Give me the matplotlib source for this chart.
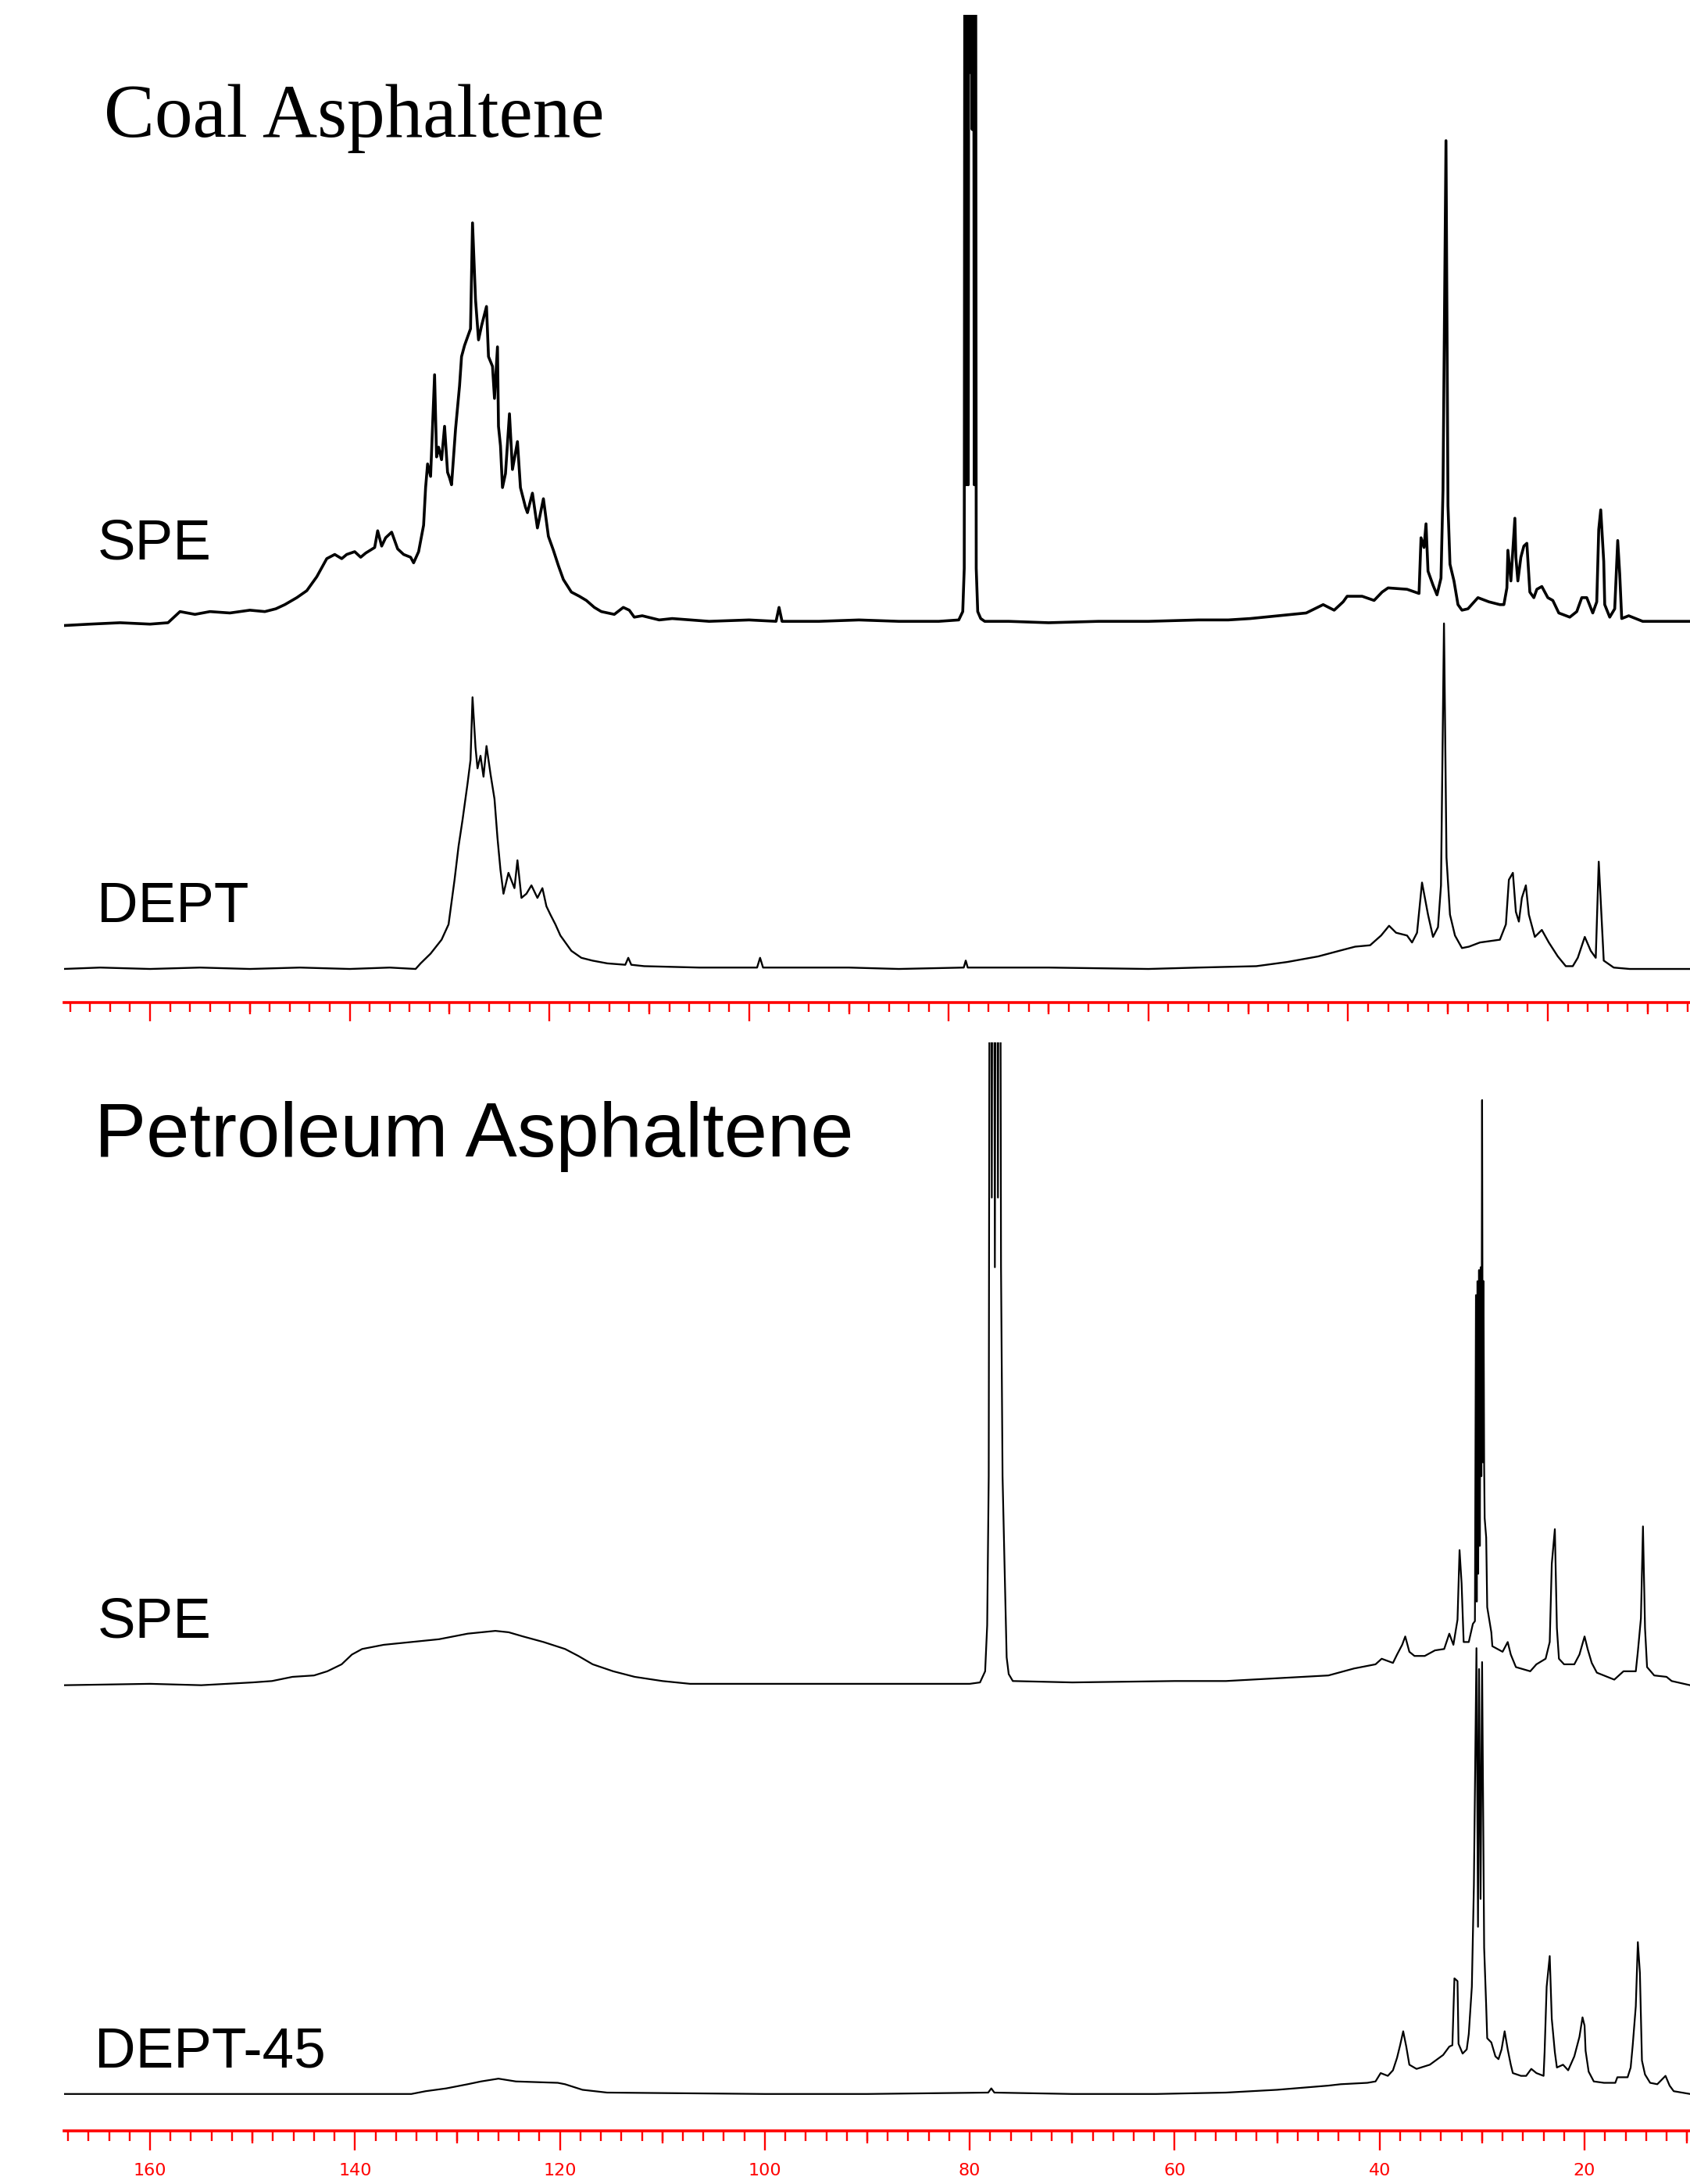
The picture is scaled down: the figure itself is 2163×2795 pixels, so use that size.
import matplotlib.pyplot as plt
from matplotlib.ticker import MultipleLocator

# intensities are in arbitrary units, ppm descending

# Coal asphaltene, SPE
coal_spe_ppm = [168.6, 166, 163, 160, 158.2, 157.6, 157.0, 155.5, 154, 152, 150, 148.5, 147.4,
                146.5, 145.3, 144.3, 143.3, 142.3, 141.5, 140.8, 140.3, 139.5, 138.9, 138.4,
                137.5, 137.2, 136.8, 136.4, 135.8, 135.2, 134.6, 133.9, 133.6, 133.1, 132.6,
                132.4, 132.2, 131.9, 131.5, 131.3, 131.1, 130.8, 130.5, 130.2, 130.0, 129.8,
                129.4, 129.0, 128.8, 128.5, 128.3, 127.9, 127.7, 127.4, 127.1, 126.8, 126.3,
                126.1, 125.7, 125.5, 125.2, 125.1, 124.9, 124.7, 124.4, 124.0, 123.7, 123.2,
                122.9, 122.4, 122.2, 121.7, 121.2, 120.6, 120.1, 119.6, 119.1, 118.6, 117.8,
                117.0, 116.3, 115.5, 114.8, 113.5, 112.6, 112.0, 111.5, 110.7, 109, 107.7,
                104, 100, 97.3, 97.0, 96.7, 93, 89, 85, 81, 79.0, 78.6, 78.45, 78.35, 78.25,
                78.15, 78.05, 77.95, 77.85, 77.75, 77.65, 77.55, 77.45, 77.35, 77.25, 77.1,
                76.8, 76.4, 74, 70, 65, 60, 55, 52, 49.8, 47.0, 44.2,
                42.5, 41.4, 40.5, 40.1, 38.6, 37.4, 36.6, 36.0, 34.1, 32.9, 32.7, 32.4, 32.2,
                32.0, 31.5, 31.1, 30.7, 30.5, 30.2, 30.0, 29.8, 29.4, 29.0, 28.6, 28.0, 27.0,
                25.9, 24.8, 24.4, 24.1, 24.0, 23.7, 23.3, 23.2, 23.0, 22.7, 22.4, 22.1, 21.8,
                21.4, 21.1, 20.6, 20.0, 19.5, 18.9, 17.8, 17.1, 16.6, 16.1, 15.5, 15.1, 14.9,
                14.7, 14.4, 14.3, 13.8, 13.3, 13.0, 12.8, 12.6, 11.9, 10.5, 8.2, 5.7]
coal_spe_int = [-1, 0, 1, 0, 1, 5, 9, 7, 9, 8, 10, 9, 11,
                14, 19, 24, 34, 47, 50, 47, 50, 52, 48, 51,
                55, 67, 56, 62, 66, 54, 50, 48, 44, 52, 71,
                98, 115, 106, 179, 120, 127, 118, 142, 109, 105, 100,
                140, 171, 192, 200, 204, 212, 288, 233, 204, 214, 228,
                192, 185, 162, 199, 142, 128, 98, 108, 151, 111, 131,
                98, 84, 80, 94, 69, 90, 63, 53, 42, 32, 23,
                20, 17, 12, 9, 7, 12, 10, 5, 6, 3, 4,
                2, 3, 2, 12, 2, 2, 3, 2, 2, 3, 9, 40, 900, 100,
                900, 100, 900, 396, 900, 355, 900, 100, 900, 40, 9,
                4, 2, 2, 1, 2, 2, 3, 3, 4, 6, 8,
                14, 10, 16, 20, 20, 17, 23, 26, 25, 22, 62, 55, 72,
                38, 28, 21, 33, 96, 347, 85, 43, 31, 14, 10, 11, 19,
                16, 14, 14, 26, 53, 31, 76, 48, 31, 48, 56, 58, 23,
                19, 25, 27, 19, 17, 8, 5, 9, 19, 19, 8, 16, 68,
                82, 45, 14, 5, 11, 60, 36, 4, 6, 2, 2, 2]

# Coal asphaltene, DEPT
coal_dept_ppm = [168.7, 165, 160, 155, 150, 145, 140, 136, 133.4, 132.9, 131.9, 130.8, 130.1,
                 129.5, 129.1, 128.7, 128.2, 127.9, 127.7, 127.4, 127.2, 126.9, 126.6, 126.3,
                 125.9, 125.5, 125.2, 124.9, 124.6, 124.1, 123.5, 123.2, 122.8, 122.3, 121.8,
                 121.2, 120.7, 120.3, 119.9, 119.4, 118.9, 118.3, 117.8, 116.8, 115.7, 114.2,
                 112.4, 112.1, 111.8, 110.5, 105, 99.2, 98.9, 98.6, 90, 85, 78.5, 78.3, 78.1,
                 70, 60, 55, 49.2, 46.1, 43.0, 40.9, 39.3, 37.8, 36.7, 35.9, 35.2, 34.1, 33.6,
                 33.1, 32.6, 32.0, 31.5, 31.0, 30.7, 30.4, 30.15, 29.8, 29.3, 28.6, 27.9, 26.8,
                 25.8, 24.8, 24.2, 23.9, 23.5, 23.2, 22.9, 22.6, 22.2, 21.9, 21.3, 20.6, 19.9,
                 19.0, 18.2, 17.5, 17.0, 16.3, 15.7, 15.2, 14.9, 14.4, 13.4, 11.8, 5.7]
coal_dept_int = [0, 1, 0, 1, 0, 1, 0, 1, 0, 4, 11, 21, 32,
                 64, 88, 107, 133, 150, 195, 159, 144, 153, 138, 160,
                 140, 122, 94, 71, 54, 69, 58, 78, 51, 54, 60,
                 51, 58, 45, 39, 32, 24, 18, 13, 8, 6, 4,
                 3, 8, 3, 2, 1, 1, 8, 1, 1, 0, 1, 6, 1,
                 1, 0, 1, 2, 5, 9, 13, 16, 17, 24, 31, 26, 24, 19,
                 26, 62, 39, 23, 30, 60, 248, 80, 39, 24, 15, 16, 19,
                 20, 21, 32, 64, 69, 41, 34, 51, 60, 39, 23, 28, 19,
                 9, 2, 2, 8, 23, 13, 8, 77, 6, 1, 0, 0]

# Petroleum asphaltene, SPE
pet_spe_ppm = [168.4, 160, 155, 150, 148.1, 146.1, 144.0, 142.7, 141.3, 140.3, 139.3, 137.2,
               134.5, 131.8, 129.0, 126.3, 125.0, 123.6, 121.6, 119.5, 118.2, 116.8, 114.8,
               112.7, 110.0, 107.3, 100, 90, 80, 79.0, 78.5, 78.3, 78.15, 78.0, 77.85, 77.7,
               77.55, 77.4, 77.25, 77.1, 76.95, 76.8, 76.6, 76.4, 76.2, 75.8, 70, 60, 55, 50,
               45.0, 42.5, 40.4,
               39.8, 38.7, 38.3, 37.8, 37.5, 37.1, 36.6, 35.6, 34.6, 33.7, 33.2, 32.8, 32.4,
               32.2, 32.0, 31.8, 31.3, 30.9, 30.7, 30.6, 30.52, 30.45, 30.38, 30.3, 30.22,
               30.14, 30.07, 30.0, 29.93, 29.86, 29.8, 29.75, 29.6, 29.5, 29.1, 29.0, 28.0,
               27.5, 27.2, 26.7, 25.3, 24.7, 23.8, 23.4,
               23.2, 22.9, 22.7, 22.5, 22.0, 21.0, 20.5, 20.0, 19.7, 19.3, 18.8, 17.1, 16.2,
               15.0, 14.8, 14.5, 14.3, 14.1, 13.9, 13.2, 12.0, 11.5, 9.7]
pet_spe_int = [0, 1, 0, 2, 3, 6, 7, 10, 15, 22, 26, 29,
               31, 33, 37, 39, 38, 35, 31, 26, 21, 15, 10,
               6, 3, 1, 1, 1, 1, 2, 10, 43, 150, 900, 350, 900,
               300, 900, 350, 900, 300, 150, 84, 20, 8, 3, 2, 3, 3, 5,
               7, 12, 15,
               19, 16, 22, 29, 35, 24, 21, 21, 25, 26, 37, 29, 47,
               97, 73, 31, 31, 44, 46, 280, 60, 290, 80, 298, 100,
               300, 150, 420, 160, 290, 157, 120, 106, 56, 38, 28, 24,
               31, 22, 13, 10, 15, 19, 31,
               87, 112, 41, 19, 15, 15, 22, 35, 26, 16, 9, 4, 10,
               10, 24, 48, 114, 41, 13, 7, 6, 3, 0]

# Petroleum asphaltene, DEPT-45
pet_dept_ppm = [168.4, 160, 150, 140, 134.5, 133.1, 131.1, 129.0, 127.7, 126.0, 124.3, 120.2,
                119.5, 117.8, 115.4, 100, 90, 78.2, 77.9, 77.6, 70, 61.8, 55, 50, 45.0, 43.8,
                41.2, 40.4, 39.9, 39.2, 38.7, 38.3, 38.0, 37.7, 37.4, 37.1, 36.4, 35.1, 33.8,
                33.2, 32.9, 32.7, 32.4, 32.3, 31.9, 31.5, 31.3, 31.0, 30.8, 30.55, 30.4, 30.3,
                30.15, 30.0, 29.8, 29.6, 29.5, 29.1, 28.7, 28.4, 28.1, 27.8, 27.5, 27.2, 27.0,
                26.2, 25.7, 25.2, 24.7, 24.0, 23.9, 23.7, 23.4, 23.2, 22.9, 22.7, 22.1, 21.6,
                21.0, 20.5, 20.2, 20.0, 19.9, 19.6, 19.1, 18.1, 17.0, 16.8, 15.8, 15.5, 15.3,
                15.0, 14.8, 14.6, 14.4, 14.1, 13.6, 12.9, 12.1, 11.7, 11.3, 9.7]
pet_dept_int = [0, 0, 0, 0, 0, 2, 4, 7, 9, 11, 9, 8,
                7, 3, 1, 0, 0, 1, 4, 1, 0, 0, 1, 3, 6, 7,
                8, 9, 15, 13, 17, 26, 35, 45, 34, 21, 18, 21, 28,
                34, 35, 83, 81, 36, 29, 32, 43, 77, 150, 320, 120, 305,
                140, 310, 105, 63, 40, 37, 27, 25, 32, 45, 32, 21, 15,
                13, 13, 18, 15, 13, 30, 77, 99, 54, 30, 19, 21, 17,
                27, 41, 55, 49, 31, 16, 9, 8, 8, 12, 12, 19, 35,
                63, 109, 87, 24, 14, 8, 7, 13, 6, 2, 0]

W, H = 2163, 2795

fig = plt.figure(figsize=(W / 100, H / 100), dpi=100)
fig.patch.set_facecolor("white")

ax_top = fig.add_axes([82 / W, 1 - 1283 / H, 1 - 82 / W, (1283 - 19) / H])
ax_bot = fig.add_axes([82 / W, 1 - 2726.5 / H, 1 - 82 / W, (2726.5 - 1334) / H])


def style_axis(ax, xlim, ylim, tick_scale, labels):
    ax.set_xlim(*xlim)
    ax.set_ylim(*ylim)
    for side in ["top", "left", "right"]:
        ax.spines[side].set_visible(False)
    ax.spines["bottom"].set_color("red")
    ax.spines["bottom"].set_linewidth(2.6)
    ax.set_yticks([])
    ax.xaxis.set_major_locator(MultipleLocator(20))
    ax.xaxis.set_minor_locator(MultipleLocator(2))
    ax.tick_params(axis="x", which="major", direction="out", length=17.5 * tick_scale,
                   width=1.7, color="red", labelbottom=labels, labelcolor="red",
                   labelsize=16, pad=12)
    ax.tick_params(axis="x", which="minor", direction="out", length=8.7 * tick_scale,
                   width=1.7, color="red")
    # the 10 ppm ticks are a bit longer than the 2 ppm ones
    mid = ax.secondary_xaxis("bottom")
    mid.set_xticks([150, 130, 110, 90, 70, 50, 30, 10])
    mid.tick_params(axis="x", length=10.8 * tick_scale, width=1.7, color="red",
                    labelbottom=False)
    mid.spines["bottom"].set_visible(False)
    mid.xaxis.set_minor_locator(plt.NullLocator())
    ax.set_facecolor("none")


style_axis(ax_top, (168.61, 5.76), (0, 708.9), 1.0, False)
style_axis(ax_bot, (168.39, 9.71), (0, 781.0), 1.04, True)

# vertical offsets of each trace (baseline height above the axis line)
ax_top.plot(coal_spe_ppm, [v + 271.6 for v in coal_spe_int], color="black", lw=2.6)
ax_top.plot(coal_dept_ppm, [v + 24.1 for v in coal_dept_int], color="black", lw=1.7)
ax_bot.plot(pet_spe_ppm, [v + 319.6 for v in pet_spe_int], color="black", lw=1.6)
ax_bot.plot(pet_dept_ppm, [v + 26.2 for v in pet_dept_int], color="black", lw=1.6)


def label(x, y, s, **kw):
    fig.text(x / W, 1 - y / H, s, va="baseline", ha="left", color="black", **kw)


label(133, 175, "Coal Asphaltene", family="Liberation Serif", fontsize=70)
label(121, 1480, "Petroleum Asphaltene", family="Liberation Sans", fontsize=71.5)
label(125, 716, "SPE", family="Liberation Sans", fontsize=52.5)
label(124, 1180, "DEPT", family="Liberation Sans", fontsize=52.5)
label(125, 2096, "SPE", family="Liberation Sans", fontsize=52.5)
label(121, 2646, "DEPT-45", family="Liberation Sans", fontsize=52.5)

fig.savefig("out.png", dpi=100)
